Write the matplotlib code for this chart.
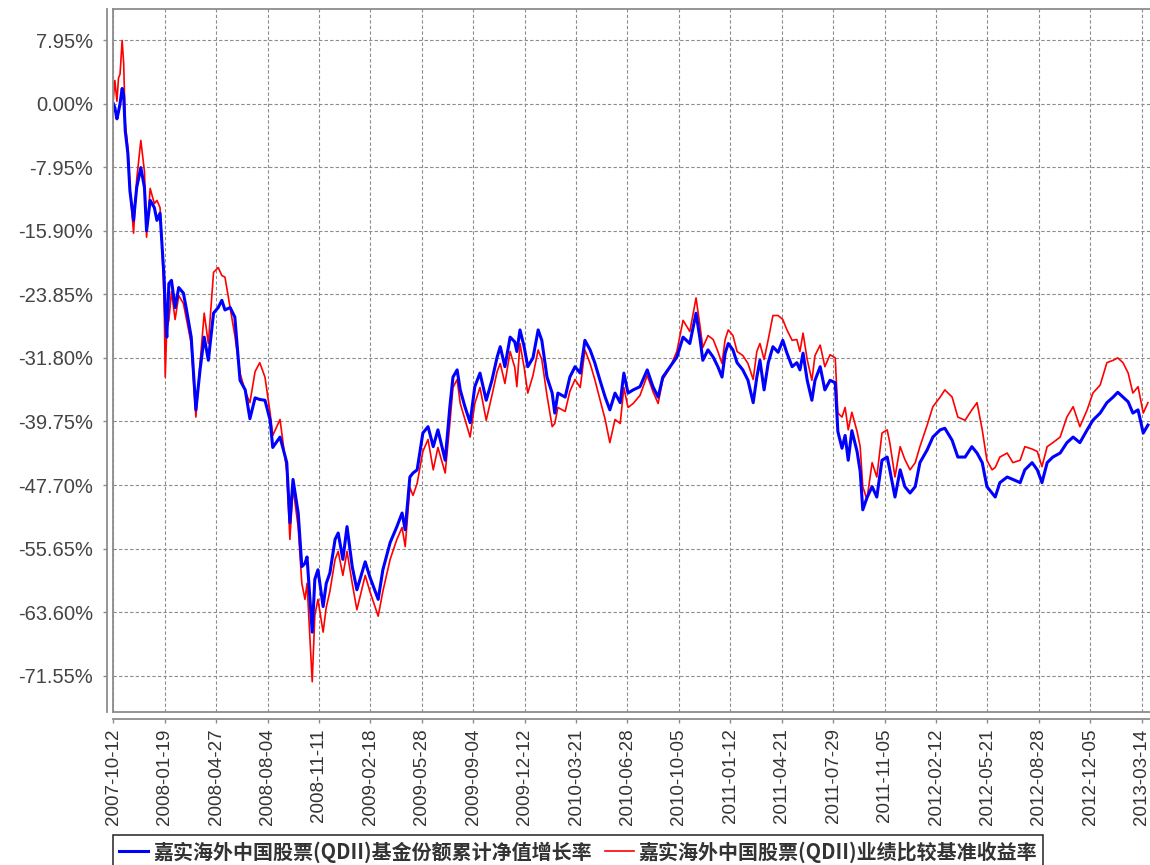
import matplotlib
matplotlib.use("Agg")
import matplotlib.pyplot as plt
import matplotlib.font_manager as fm
import numpy as np
import pandas as pd

plt.rcParams['font.family'] = ['Liberation Sans', 'DejaVu Sans']

START = "2007-10-12"

# days since START, fund cumulative NAV growth (%), benchmark return (%)
days = [
    0, 3, 7, 10, 13, 17, 20, 23, 28, 32, 39, 45, 53, 60, 64, 71, 79, 84, 90, 94,
    98, 100, 103, 107, 112, 119, 126, 135, 141, 150, 154, 159, 167, 175, 183, 193,
    202, 209, 215, 225, 234, 244, 254, 263, 273, 282, 292, 302, 307, 321, 334, 340,
    346, 356, 363, 369, 373, 383, 388, 394, 404, 410, 417, 427, 433, 442, 450, 460,
    469, 485, 494, 510, 519, 533, 546, 556, 562, 571, 577, 585, 596, 606, 616, 625,
    639, 648, 654, 662, 668, 677, 687, 696, 706, 718, 729, 739, 745, 754, 764, 773,
    777, 783, 791, 798, 808, 818, 825, 835, 845, 850, 856, 870, 879, 889, 899, 908,
    918, 927, 937, 947, 956, 966, 976, 983, 991, 1001, 1014, 1028, 1039, 1049, 1058,
    1072, 1085, 1097, 1110, 1122, 1130, 1135, 1145, 1155, 1164, 1172, 1178, 1184,
    1193, 1201, 1212, 1222, 1232, 1239, 1245, 1253, 1261, 1270, 1280, 1289, 1297,
    1307, 1316, 1322, 1328, 1336, 1345, 1351, 1361, 1370, 1380, 1390, 1395, 1403,
    1409, 1415, 1422, 1432, 1438, 1443, 1451, 1461, 1470, 1480, 1490, 1495, 1505,
    1515, 1524, 1534, 1544, 1553, 1567, 1578, 1592, 1601, 1615, 1626, 1640, 1653,
    1663, 1673, 1682, 1692, 1698, 1707, 1721, 1732, 1746, 1755, 1769, 1779, 1788,
    1798, 1809, 1823, 1836, 1848, 1861, 1875, 1886, 1900, 1913, 1925, 1934, 1944,
    1954, 1963, 1973, 1983, 1992,
]

fund = [
    0.0, -0.5, -1.9, -1.0, 0.0, 1.9, 1.0, -3.4, -6.2, -10.9, -14.6, -10.5, -8.0, -10.5,
    -15.9, -12.1, -13.0, -14.6, -13.7, -18.0, -22.1, -26.0, -29.2, -22.5, -22.1, -25.5,
    -23.0, -23.7, -25.8, -29.2, -33.3, -38.3, -33.3, -29.2, -32.1, -26.2, -25.5, -24.6,
    -25.8, -25.5, -26.7, -34.6, -35.8, -39.4, -36.8, -37.0, -37.1, -39.6, -43.0, -41.7,
    -44.9, -52.4, -47.0, -51.2, -57.9, -57.5, -56.7, -66.1, -59.5, -58.3, -62.9, -60.0,
    -58.7, -54.5, -53.7, -57.0, -52.9, -57.9, -60.8, -57.3, -59.2, -62.0, -58.3, -54.9,
    -52.9, -51.2, -53.3, -46.7, -46.2, -45.8, -41.2, -40.4, -42.9, -40.8, -44.6, -37.9,
    -34.2, -33.3, -35.8, -37.9, -39.9, -35.4, -33.7, -37.1, -34.6, -31.7, -30.4, -32.9,
    -29.2, -29.8, -31.0, -28.3, -30.4, -32.9, -31.8, -28.3, -29.6, -34.2, -36.2, -38.7,
    -36.2, -36.7, -34.2, -32.9, -33.7, -29.6, -30.8, -32.4, -34.6, -36.7, -38.3, -36.2,
    -37.4, -33.7, -36.2, -35.8, -35.4, -33.3, -35.4, -36.7, -34.2, -32.9, -31.7, -29.2,
    -30.0, -26.2, -29.6, -32.1, -30.8, -31.7, -32.9, -34.2, -31.2, -30.0, -30.8, -32.4,
    -33.3, -34.6, -37.4, -34.2, -32.1, -35.8, -32.4, -30.4, -31.1, -29.6, -31.2, -32.9,
    -32.4, -33.3, -31.2, -34.6, -37.1, -34.6, -32.9, -35.8, -34.6, -34.9, -41.0, -43.1,
    -41.5, -44.6, -40.9, -43.5, -46.0, -50.8, -49.3, -47.9, -49.2, -44.6, -44.2, -45.8,
    -49.2, -45.8, -47.9, -48.7, -47.9, -44.9, -43.3, -41.7, -40.8, -40.6, -42.1, -44.2,
    -44.2, -42.9, -43.7, -44.9, -47.9, -48.7, -49.2, -47.4, -46.7, -47.0, -47.4, -45.8,
    -44.9, -45.8, -47.4, -44.9, -44.2, -43.7, -42.4, -41.7, -42.4, -40.8, -39.6, -38.7,
    -37.4, -36.7, -36.1, -36.7, -37.3, -38.7, -38.3, -41.2, -40.2,
]

bench = [
    0.5, 2.9, 0.3, 3.2, 3.7, 7.9, 5.0, -2.5, -5.5, -10.5, -16.2, -9.5, -4.6, -8.5,
    -16.7, -10.6, -12.5, -12.1, -13.0, -18.0, -25.0, -34.2, -28.0, -27.1, -23.5, -27.0,
    -24.0, -25.0, -27.0, -30.0, -34.0, -39.2, -32.5, -26.2, -30.0, -21.1, -20.5, -21.5,
    -21.7, -25.5, -29.0, -33.7, -36.0, -37.4, -33.5, -32.4, -34.2, -38.7, -41.5, -39.5,
    -46.0, -54.5, -48.0, -53.0, -60.0, -62.0, -60.0, -72.3, -64.0, -62.0, -66.1, -63.0,
    -61.0, -57.0, -56.0, -59.0, -56.0, -60.0, -63.3, -59.0, -61.0, -64.1, -61.0, -57.0,
    -54.5, -53.0, -55.4, -48.0, -49.0, -47.5, -43.5, -42.0, -45.8, -43.0, -46.2, -40.0,
    -35.5, -34.5, -37.5, -39.5, -41.7, -37.5, -35.5, -39.6, -36.5, -33.5, -32.5, -35.0,
    -31.0, -33.0, -35.4, -30.0, -33.0, -36.2, -34.0, -30.8, -32.0, -36.5, -40.4, -40.0,
    -38.0, -38.5, -36.0, -34.5, -35.5, -30.8, -32.5, -34.5, -37.0, -39.5, -42.4, -39.5,
    -40.0, -35.5, -38.0, -37.5, -36.5, -34.0, -36.0, -37.5, -34.5, -33.0, -31.0, -27.1,
    -28.5, -24.3, -28.0, -30.5, -29.0, -29.5, -31.0, -32.5, -29.5, -28.3, -29.0, -31.0,
    -31.5, -32.5, -34.5, -31.0, -30.0, -32.0, -29.5, -26.5, -26.5, -27.0, -28.3, -29.6,
    -29.5, -31.0, -28.7, -32.0, -34.6, -31.5, -30.2, -32.9, -31.4, -31.8, -38.7, -39.2,
    -38.0, -40.8, -38.6, -41.0, -42.9, -47.9, -49.5, -44.9, -46.7, -41.2, -40.8, -42.4,
    -46.7, -42.9, -44.5, -45.8, -44.9, -42.9, -40.2, -37.9, -36.7, -35.8, -36.7, -39.2,
    -39.6, -38.3, -37.4, -40.8, -44.6, -45.8, -45.5, -44.2, -43.7, -44.9, -44.6, -42.9,
    -43.2, -43.5, -45.4, -42.9, -42.4, -41.7, -39.2, -37.9, -40.4, -38.3, -36.2, -35.2,
    -32.4, -32.1, -31.8, -32.4, -33.7, -36.2, -35.4, -38.7, -37.4,
]

x_tick_labels = [
    "2007-10-12", "2008-01-19", "2008-04-27", "2008-08-04", "2008-11-11",
    "2009-02-18", "2009-05-28", "2009-09-04", "2009-12-12", "2010-03-21",
    "2010-06-28", "2010-10-05", "2011-01-12", "2011-04-21", "2011-07-29",
    "2011-11-05", "2012-02-12", "2012-05-21", "2012-08-28", "2012-12-05",
    "2013-03-14",
]
y_ticks = [7.95, 0.0, -7.95, -15.90, -23.85, -31.80, -39.75, -47.70, -55.65, -63.60, -71.55]

fund_name = "嘉实海外中国股票(QDII)基金份额累计净值增长率"
bench_name = "嘉实海外中国股票(QDII)业绩比较基准收益率"

dates = pd.Timestamp(START) + pd.to_timedelta(days, unit="D")

W, H = 1150, 865
fig = plt.figure(figsize=(W / 100, H / 100), dpi=100)
ax = fig.add_axes([113.3 / W, 1 - 711.7 / H, (W - 113.3) / W, (711.7 - 9.3) / H])

gray = "#8c8c8c"
ax.plot(dates, bench, color="#ff0000", lw=1.2, label=bench_name)
ax.plot(dates, fund, color="#0000ff", lw=2.2, label=fund_name)

# spine offsets first: set_position resets the tick objects
ax.spines["right"].set_visible(False)
ax.spines["left"].set_position(("outward", 4.75))
ax.spines["bottom"].set_position(("outward", 5.25))
for s in ["left", "bottom", "top"]:
    ax.spines[s].set_color(gray)
    ax.spines[s].set_linewidth(1.3)
# inner plot border
ax.plot([0, 0], [0, 1], transform=ax.transAxes, color=gray, lw=1.3, clip_on=False)
ax.plot([0, 1], [0, 0], transform=ax.transAxes, color=gray, lw=1.3, clip_on=False)

ax.set_xlim(pd.Timestamp(START), pd.Timestamp(START) + pd.Timedelta(days=1996))
ax.set_ylim(-76.05, 11.8)

ax.set_yticks(y_ticks)
ax.set_yticklabels(["%.2f%%" % v for v in y_ticks])
ax.set_xticks(pd.to_datetime(x_tick_labels))
ax.set_xticklabels(x_tick_labels)

ax.grid(True, color=gray, linestyle=(0, (3, 2)), linewidth=0.8)
ax.tick_params(axis="both", direction="out", length=3.2, width=1, color=gray)
ax.tick_params(axis="y", pad=6.5, labelsize=14.5, labelcolor="#444444")
ax.tick_params(axis="x", pad=3.6, labelsize=13.5, labelcolor="#333333", labelrotation=90)

handles, labels = ax.get_legend_handles_labels()
leg_font = fm.FontProperties(family=["Noto Sans CJK SC", "DejaVu Sans"], weight="bold", size=14.4)
leg = fig.legend(handles[::-1], labels[::-1], loc="upper left",
                 bbox_to_anchor=(113 / W, 1 - 835 / H), ncol=2, prop=leg_font,
                 frameon=True, fancybox=False, edgecolor="#222222", framealpha=1,
                 handlelength=1.45, handletextpad=0.25, columnspacing=0.65,
                 borderpad=0.3, borderaxespad=0)
leg.get_frame().set_linewidth(1.1)
for t in leg.get_texts():
    t.set_color("#333333")

fig.savefig("out.png", dpi=100)
